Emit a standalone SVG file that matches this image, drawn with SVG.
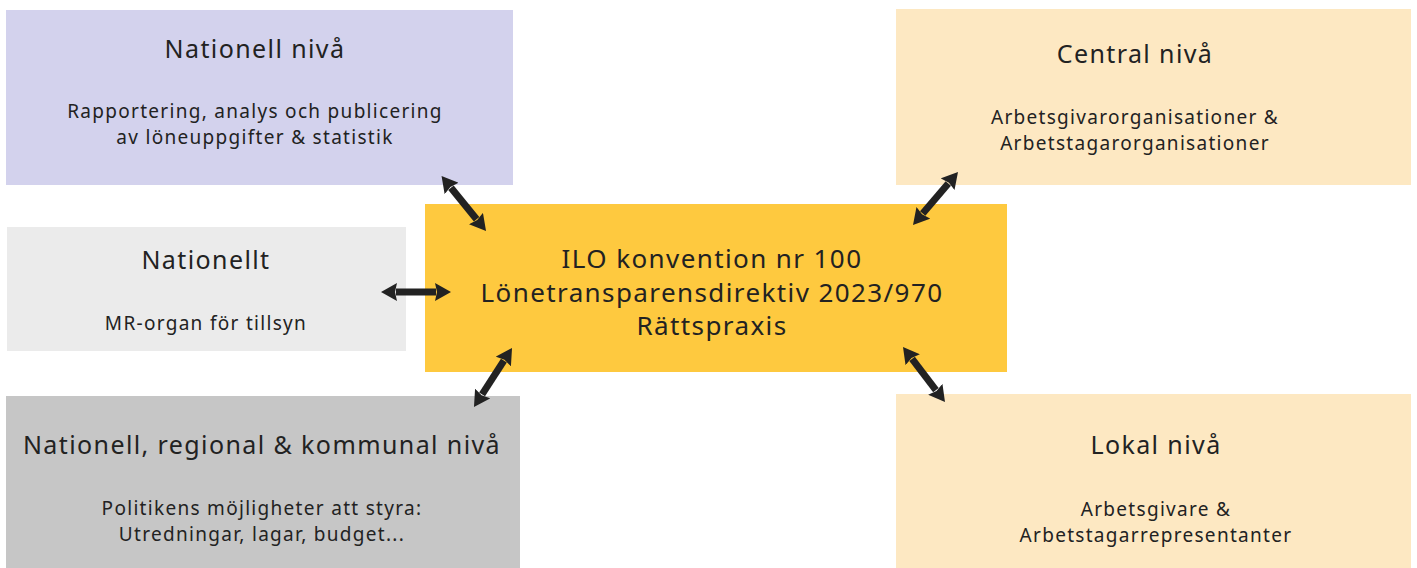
<svg xmlns="http://www.w3.org/2000/svg" width="1417" height="568" viewBox="0 0 1417 568">
<defs>
<style>
text{font-family:"Noto Sans","Open Sans","DejaVu Sans",sans-serif;fill:#222;text-anchor:middle}
.t{font-size:25px;letter-spacing:1.4px}
.s{font-size:19px;letter-spacing:1.3px}
.c{font-size:26px;letter-spacing:1.4px}
.ar{stroke:#222;stroke-width:7;fill:none;marker-start:url(#ah);marker-end:url(#ah)}
</style>
<marker id="ah" markerUnits="userSpaceOnUse" viewBox="0 0 16 18" markerWidth="16" markerHeight="18" refX="1" refY="9" orient="auto-start-reverse">
<path d="M0,0 L16,9 L0,18 L2,9 z" fill="#222"/>
</marker>
</defs>
<rect width="1417" height="568" fill="#fff"/>
<g id="nationell-niva">
<rect x="6" y="10" width="507" height="175" fill="#d3d2ed"/>
<text class="t" x="255" y="58">Nationell nivå</text>
<text class="s" x="255" y="118">Rapportering, analys och publicering</text>
<text class="s" x="255" y="144">av löneuppgifter &amp; statistik</text>
</g>
<g id="central-niva">
<rect x="896" y="9" width="515" height="176" fill="#fde8c2"/>
<text class="t" x="1135" y="63">Central nivå</text>
<text class="s" x="1135" y="124">Arbetsgivarorganisationer &amp;</text>
<text class="s" x="1135" y="150">Arbetstagarorganisationer</text>
</g>
<g id="nationellt">
<rect x="7" y="227" width="399" height="124" fill="#ebebeb"/>
<text class="t" x="206" y="269">Nationellt</text>
<text class="s" x="206" y="330">MR-organ för tillsyn</text>
</g>
<g id="center">
<rect x="425" y="204" width="582" height="168" fill="#fec93f"/>
<text class="c" x="712" y="268">ILO konvention nr 100</text>
<text class="c" x="712" y="302">Lönetransparensdirektiv 2023/970</text>
<text class="c" x="712" y="335">Rättspraxis</text>
</g>
<g id="nationell-regional">
<rect x="6" y="396" width="514" height="172" fill="#c6c6c6"/>
<text class="t" x="262" y="454">Nationell, regional &amp; kommunal nivå</text>
<text class="s" x="262" y="515">Politikens möjligheter att styra:</text>
<text class="s" x="262" y="541">Utredningar, lagar, budget...</text>
</g>
<g id="lokal-niva">
<rect x="896" y="394" width="515" height="174" fill="#fde8c2"/>
<text class="t" x="1156" y="454">Lokal nivå</text>
<text class="s" x="1156" y="516">Arbetsgivare &amp;</text>
<text class="s" x="1156" y="542">Arbetstagarrepresentanter</text>
</g>
<g id="connectors">
<line class="ar" x1="451" y1="187.7" x2="476.6" y2="219.3"/>
<line class="ar" x1="948.3" y1="183.4" x2="922.7" y2="213.6"/>
<line class="ar" x1="912.1" y1="358.9" x2="935.9" y2="390.1"/>
<line class="ar" x1="503.9" y1="360.6" x2="482.1" y2="394.4"/>
<line class="ar" x1="396" y1="292" x2="436" y2="292"/>
</g>
</svg>
